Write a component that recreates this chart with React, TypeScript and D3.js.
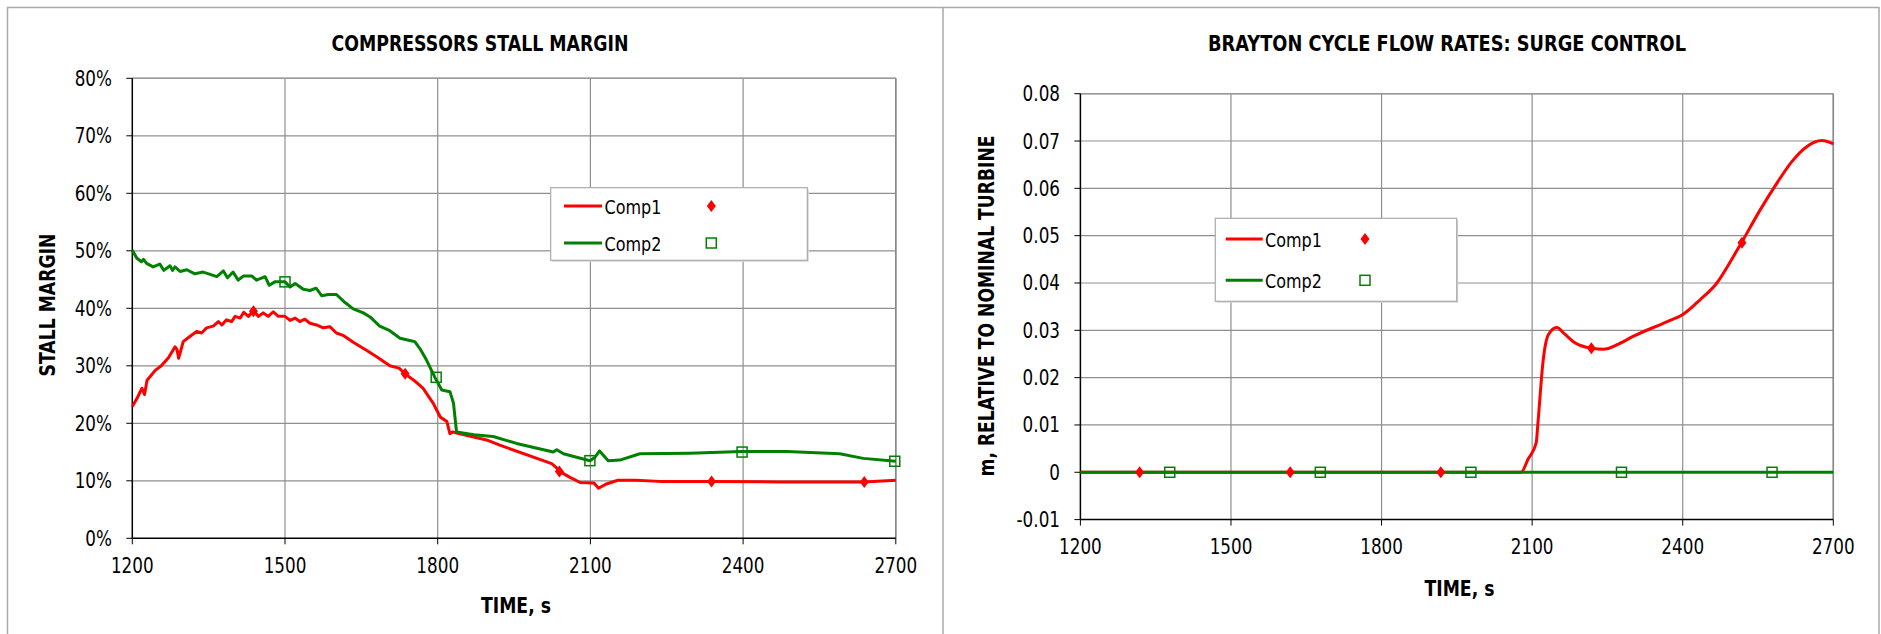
import React from "react";
import * as d3 from "d3";

// ---------- DATA ----------
const xTicks = [1200, 1500, 1800, 2100, 2400, 2700];
const stallTicks = [0, 10, 20, 30, 40, 50, 60, 70, 80];
const flowTicks = [-0.01, 0, 0.01, 0.02, 0.03, 0.04, 0.05, 0.06, 0.07, 0.08];
const seriesNames = ["Comp1", "Comp2"];

const comp1StallTime = [1200,1209,1219,1224,1229,1245,1257,1271,1284,1288,1291,1300,1313,1327,1336,1346,1359,1369,1376,1385,1395,1402,1412,1419,1428,1438,1448,1457,1467,1477,1487,1500,1510,1520,1529,1539,1549,1562,1575,1588,1601,1614,1634,1660,1683,1706,1724,1736,1753,1771,1778,1791,1805,1818,1824,1830,1837,1896,1922,2024,2033,2040,2060,2080,2107,2116,2130,2154,2189,2236,2338,2472,2638,2700];
const comp1StallValue = [22.9,24.3,26.1,25.0,27.5,29.2,30.0,31.4,33.3,32.8,31.3,34.2,35.1,36.0,35.7,36.6,36.9,37.7,37.1,38.0,37.7,38.6,38.3,39.3,38.6,39.5,38.6,39.2,38.6,39.4,38.6,38.6,37.9,38.3,37.7,38.1,37.4,37.1,36.6,36.8,35.7,35.3,34.1,32.7,31.4,30.0,29.6,28.6,27.5,26.1,25.2,23.5,21.1,20.3,18.2,18.5,18.3,17.1,16.2,13.0,12.3,11.6,10.6,9.7,9.6,8.7,9.4,10.1,10.1,9.9,9.9,9.8,9.8,10.1];

const comp2StallTime = [1200,1209,1218,1222,1228,1241,1254,1262,1274,1279,1284,1294,1307,1323,1339,1353,1366,1379,1387,1398,1408,1418,1435,1444,1461,1469,1480,1500,1510,1520,1536,1549,1561,1572,1585,1601,1618,1634,1654,1667,1686,1706,1726,1745,1755,1765,1778,1795,1808,1824,1831,1837,1871,1909,1955,2027,2034,2047,2099,2109,2118,2135,2158,2197,2295,2397,2486,2590,2636,2700];
const comp2StallValue = [50.1,48.7,48.1,48.5,47.8,47.2,47.7,46.6,47.4,46.6,47.2,46.4,46.7,46.0,46.3,45.9,45.5,46.5,45.3,46.3,44.9,45.6,45.6,44.9,45.5,44.0,44.6,44.6,43.7,44.3,43.3,43.1,43.5,42.2,42.4,42.4,41.0,39.9,39.2,38.5,36.9,36.1,34.8,34.4,34.2,33.0,31.0,27.9,25.8,25.5,23.5,18.5,18.0,17.7,16.5,15.0,15.4,14.7,13.5,14.1,15.2,13.5,13.6,14.7,14.8,15.1,15.1,14.7,13.9,13.4];

const comp1StallMarkT = [1438, 1736, 2039, 2338, 2638];
const comp1StallMarkV = [39.5, 28.6, 11.6, 9.9, 9.8];
const comp2StallMarkT = [1500, 1797, 2099, 2398, 2698];
const comp2StallMarkV = [44.6, 28.0, 13.5, 15.0, 13.4];

const comp1FlowTime = [1200,2078,2092,2108,2112,2122,2132,2149,2164,2182,2219,2242,2272,2301,2368,2401,2434,2468,2501,2517,2554,2587,2617,2647,2677,2700];
const comp1FlowValue = [0,0,0.0028,0.0062,0.011,0.0237,0.029,0.0306,0.0293,0.0276,0.0262,0.026,0.0271,0.0287,0.0318,0.0334,0.0364,0.04,0.0456,0.0485,0.0554,0.061,0.0656,0.0688,0.0701,0.0694];
const comp2FlowTime = [1200, 2700];
const comp2FlowValue = [0, 0];

const comp1FlowMarkT = [1318, 1618, 1918, 2218, 2518];
const comp1FlowMarkV = [0, 0, 0, 0.0262, 0.0485];
const comp2FlowMarkT = [1378, 1678, 1978, 2278, 2578];
const comp2FlowMarkV = [0, 0, 0, 0, 0];

// ---------- STYLE ----------
const RED = "#ff0000";
const GREEN = "#008000";
const GRID = "#8f8f8f";
const FONT = "'DejaVu Sans', Verdana, sans-serif";
const SX = 0.8;

const zip = (a: number[], b: number[]) => a.map((t, i) => [t, b[i]] as [number, number]);

function Diamond({ x, y }: { x: number; y: number }) {
  return <path d={`M${x},${y - 6}L${x + 4.5},${y}L${x},${y + 6}L${x - 4.5},${y}Z`} fill={RED} />;
}
function Square({ x, y }: { x: number; y: number }) {
  return <rect x={x - 5} y={y - 5} width={10} height={10} fill="none" stroke={GREEN} strokeWidth={1.5} />;
}

function Txt({ x, y, anchor = "start", size = 21, weight = "normal", children }: any) {
  return (
    <text transform={`translate(${x},${y}) scale(${SX},1)`} textAnchor={anchor} fontFamily={FONT}
      fontSize={size} fontWeight={weight} fill="#000">{children}</text>
  );
}

function Label({ x, y, len, rotate = false, size = 20.5, children }: any) {
  return (
    <text transform={`translate(${x},${y})${rotate ? " rotate(-90)" : ""}`} textAnchor="middle"
      fontFamily={FONT} fontSize={size} fontWeight="bold" textLength={len}
      lengthAdjust="spacingAndGlyphs" fill="#000">{children}</text>
  );
}

function Chart(props: any) {
  const { left, right, top, bottom, yDomain, yTicks, yFmt, s1, s2, m1, m2, curve,
    title, titleX, titleLen, yLabel, yLabelX, yLabelY, yLabelLen, xLabelX, xLabelY,
    xTickY, yTickX, legend } = props;
  const x = d3.scaleLinear().domain([1200, 2700]).range([left, right]);
  const y = d3.scaleLinear().domain(yDomain).range([bottom, top]);
  const line = d3.line<[number, number]>().x(d => x(d[0])).y(d => y(d[1])).curve(curve);
  return (
    <g>
      {/* grid */}
      {yTicks.filter((t: number) => t !== yDomain[0]).map((t: number) => (
        <line key={"gy" + t} x1={left} x2={right} y1={y(t)} y2={y(t)} stroke={GRID} strokeWidth={1.2} />
      ))}
      {xTicks.filter(t => t !== 1200).map(t => (
        <line key={"gx" + t} x1={x(t)} x2={x(t)} y1={top} y2={bottom} stroke={GRID} strokeWidth={1.2} />
      ))}
      <line x1={left} x2={right} y1={top} y2={top} stroke="#999" strokeWidth={1.5} />
      <line x1={right} x2={right} y1={top} y2={bottom} stroke="#888" strokeWidth={1.5} />
      {/* axes */}
      <line x1={left} x2={left} y1={top} y2={bottom} stroke="#000" strokeWidth={1.5} />
      <line x1={left} x2={right} y1={bottom} y2={bottom} stroke="#000" strokeWidth={1.5} />
      {yTicks.map((t: number) => (
        <g key={"ty" + t}>
          <line x1={left - 6} x2={left} y1={y(t)} y2={y(t)} stroke="#000" strokeWidth={1} />
          <Txt x={yTickX} y={y(t) + 7.5} anchor="end">{yFmt(t)}</Txt>
        </g>
      ))}
      {xTicks.map(t => (
        <g key={"tx" + t}>
          <line x1={x(t)} x2={x(t)} y1={bottom} y2={bottom + 6} stroke="#000" strokeWidth={1} />
          <Txt x={x(t)} y={xTickY} anchor="middle">{t}</Txt>
        </g>
      ))}
      {/* series */}
      <path d={line(s1) || ""} fill="none" stroke={RED} strokeWidth={3} strokeLinejoin="round" />
      <path d={line(s2) || ""} fill="none" stroke={GREEN} strokeWidth={3} strokeLinejoin="round" />
      {m1.map((p: [number, number], i: number) => <Diamond key={"m1" + i} x={x(p[0])} y={y(p[1])} />)}
      {m2.map((p: [number, number], i: number) => <Square key={"m2" + i} x={x(p[0])} y={y(p[1])} />)}
      {/* titles */}
      <Label x={titleX} y={51} len={titleLen}>{title}</Label>
      <Label x={yLabelX} y={yLabelY} len={yLabelLen} rotate>{yLabel}</Label>
      <Label x={xLabelX} y={xLabelY} len={70}>TIME, s</Label>
      {/* legend */}
      <g>
        <rect x={legend.x + 1.5} y={legend.y + 1.5} width={legend.w} height={legend.h} fill="#d8d8d8" />
        <rect x={legend.x} y={legend.y} width={legend.w} height={legend.h} fill="#fff" stroke="#aaa" strokeWidth={1.2} />
        {seriesNames.map((n, i) => {
          const ly = i === 0 ? legend.r1 : legend.r2;
          return (
            <g key={n}>
              <line x1={legend.lx1} x2={legend.lx2} y1={ly} y2={ly} stroke={i === 0 ? RED : GREEN} strokeWidth={3} />
              <Txt x={legend.tx} y={ly + 7.5} size={20}>{n}</Txt>
              {i === 0 ? <Diamond x={legend.mx} y={ly} /> : <Square x={legend.mx} y={ly} />}
            </g>
          );
        })}
      </g>
    </g>
  );
}

export default function App() {
  return (
    <div style={{ position: "absolute", left: 0, top: 0, width: 1881, height: 634, background: "#fff" }}>
      <svg width={1881} height={634} style={{ display: "block" }}>
        <rect width={1881} height={634} fill="#fff" />
        <path d="M7.5,640V7.5H943V640" fill="none" stroke="#aaa" strokeWidth={1.5} />
        <path d="M943,7.5H1879V640" fill="none" stroke="#aaa" strokeWidth={1.5} />
        <Chart left={132.3} right={895.8} top={78.3} bottom={538.3} yDomain={[0, 80]} yTicks={stallTicks}
          yFmt={(t: number) => `${t}%`} s1={zip(comp1StallTime, comp1StallValue)} s2={zip(comp2StallTime, comp2StallValue)}
          m1={zip(comp1StallMarkT, comp1StallMarkV)} m2={zip(comp2StallMarkT, comp2StallMarkV)} curve={d3.curveLinear}
          title="COMPRESSORS STALL MARGIN" titleX={480} titleLen={297}
          yLabel="STALL MARGIN" yLabelX={55} yLabelY={305} yLabelLen={143}
          xLabelX={516} xLabelY={613} xTickY={573} yTickX={112}
          legend={{ x: 550.7, y: 187.7, w: 256.6, h: 72.6, r1: 206, r2: 243, lx1: 564, lx2: 602, tx: 604.5, mx: 711.3 }} />
        <Chart left={1080.4} right={1833.3} top={93.7} bottom={519.6} yDomain={[-0.01, 0.08]} yTicks={flowTicks}
          yFmt={(t: number) => (t === 0 ? "0" : (t < 0 ? "-" : "") + d3.format(".2f")(Math.abs(t)))} s1={zip(comp1FlowTime, comp1FlowValue)}
          s2={zip(comp2FlowTime, comp2FlowValue)} m1={zip(comp1FlowMarkT, comp1FlowMarkV)} m2={zip(comp2FlowMarkT, comp2FlowMarkV)}
          curve={d3.curveMonotoneX}
          title="BRAYTON CYCLE FLOW RATES: SURGE CONTROL" titleX={1447} titleLen={478}
          yLabel="m, RELATIVE TO NOMINAL TURBINE" yLabelX={994} yLabelY={306} yLabelLen={341}
          xLabelX={1459.5} xLabelY={596} xTickY={554} yTickX={1060}
          legend={{ x: 1215.3, y: 218.3, w: 241.4, h: 83, r1: 239, r2: 280.3, lx1: 1225.7, lx2: 1262.7, tx: 1265, mx: 1365 }} />
      </svg>
    </div>
  );
}
